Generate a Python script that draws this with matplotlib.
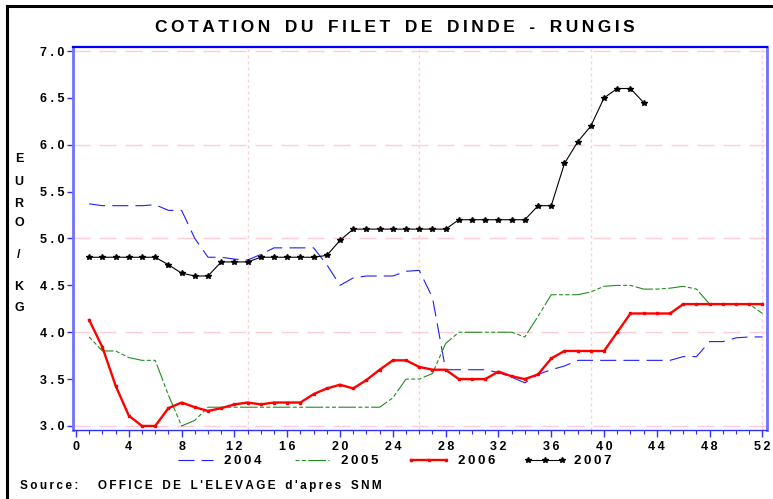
import numpy as np
import matplotlib.pyplot as plt
from matplotlib.lines import Line2D

plt.rcParams['font.family'] = ['Liberation Sans', 'DejaVu Sans']
plt.rcParams['font.weight'] = 'bold'

# weekly quotations, euro / kg
weeks_2004 = list(range(1, 53))
val_2004 = [5.37, 5.35, 5.35, 5.35, 5.35, 5.36, 5.3, 5.3, 5.0, 4.8,
            4.8, 4.78, 4.77, 4.83, 4.9, 4.9, 4.9, 4.9, 4.72, 4.5,
            4.58, 4.6, 4.6, 4.6, 4.65, 4.66, 4.37, 3.6, 3.6, 3.6,
            3.6, 3.57, 3.52, 3.46, 3.55, 3.6, 3.64, 3.7, 3.7, 3.7,
            3.7, 3.7, 3.7, 3.7, 3.7, 3.74, 3.74, 3.9, 3.9, 3.94,
            3.95, 3.95]

weeks_2005 = list(range(1, 53))
val_2005 = [3.95, 3.8, 3.8, 3.73, 3.7, 3.7, 3.33, 3.0, 3.06, 3.2,
            3.2, 3.2, 3.2, 3.2, 3.2, 3.2, 3.2, 3.2, 3.2, 3.2,
            3.2, 3.2, 3.2, 3.3, 3.5, 3.5, 3.56, 3.88, 4.0, 4.0,
            4.0, 4.0, 4.0, 3.95, 4.17, 4.4, 4.4, 4.4, 4.43, 4.49,
            4.5, 4.5, 4.46, 4.46, 4.47, 4.49, 4.46, 4.3, 4.3, 4.3,
            4.3, 4.2]

weeks_2006 = list(range(1, 53))
val_2006 = [4.13, 3.84, 3.43, 3.11, 3.0, 3.0, 3.19, 3.25, 3.2, 3.16,
            3.19, 3.23, 3.25, 3.23, 3.25, 3.25, 3.25, 3.34, 3.4, 3.44,
            3.4, 3.49, 3.6, 3.7, 3.7, 3.63, 3.6, 3.6, 3.5, 3.5,
            3.5, 3.58, 3.53, 3.5, 3.55, 3.72, 3.8, 3.8, 3.8, 3.8,
            4.0, 4.2, 4.2, 4.2, 4.2, 4.3, 4.3, 4.3, 4.3, 4.3,
            4.3, 4.3]

weeks_2007 = list(range(1, 44))
val_2007 = [4.8, 4.8, 4.8, 4.8, 4.8, 4.8, 4.72, 4.63, 4.6, 4.6,
            4.75, 4.75, 4.75, 4.8, 4.8, 4.8, 4.8, 4.8, 4.82, 4.98,
            5.1, 5.1, 5.1, 5.1, 5.1, 5.1, 5.1, 5.1, 5.2, 5.2,
            5.2, 5.2, 5.2, 5.2, 5.35, 5.35, 5.8, 6.03, 6.2, 6.5,
            6.6, 6.6, 6.45]

xticks = list(range(0, 53, 4))
yticks = [3.0, 3.5, 4.0, 4.5, 5.0, 5.5, 6.0, 6.5, 7.0]
week_grid = [13, 26, 39, 52]
price_grid = [3.0, 4.0, 5.0, 6.0, 7.0]


def px(n):
    return n * 0.72


def spaced(s):
    # letter spacing like the original output
    return '\u2009'.join(s)


fig = plt.figure(figsize=(7.73, 4.99), dpi=100)
ax = fig.add_axes([72.7 / 773, 1 - 430 / 499, (766.7 - 72.7) / 773, (430 - 46.7) / 499])

# outer frame: only left and top edges are inside the image
x0, y0 = 7.5 / 773, 1 - 6 / 499
fig.add_artist(Line2D([x0, x0], [0, y0], transform=fig.transFigure, color='black', lw=2.2))
fig.add_artist(Line2D([x0, 1], [y0, y0], transform=fig.transFigure, color='black', lw=2.2))

for g in price_grid:
    ax.axhline(g, color='#ffccd6', lw=1, dashes=(px(17), px(9)), zorder=0)
for g in week_grid:
    ax.axvline(g, color='#ffccd6', lw=1, dashes=(px(3), px(3)), zorder=0)

ax.plot(weeks_2004, val_2004, color='#1f1fff', lw=0.8,
        dashes=(px(20), px(9)), label=spaced('2004'))
ax.plot(weeks_2005, val_2005, color='#1f8f1f', lw=0.8,
        dashes=(px(5), px(3), px(5), px(3), px(22), px(3)), label=spaced('2005'))
ax.plot(weeks_2006, val_2006, color='#ff0000', lw=1.7, marker='s',
        markersize=2.0, label=spaced('2006'))
ax.plot(weeks_2007, val_2007, color='black', lw=0.8, marker='*',
        markersize=4.2, label=spaced('2007'))

ax.set_xlim(-0.25, 52.32)
ax.set_ylim(2.957, 7.046)
ax.set_xticks(xticks)
ax.set_xticks(range(0, 53), minor=True)
ax.set_xticklabels([spaced(str(t)) for t in xticks], fontsize=9, fontweight='bold')
ax.set_yticks(yticks)
ax.set_yticklabels([' . '.join(f'{t:.1f}'.split('.')) for t in yticks],
                   fontsize=9, fontweight='bold')
ax.tick_params(axis='x', which='major', length=5, width=1, color='#3030ff', pad=3)
ax.tick_params(axis='x', which='minor', length=3, width=0.8, color='#3030ff')
ax.tick_params(axis='y', length=4, width=1, color='#3030ff', pad=2)

ax.spines['top'].set_color('#0000ff')
ax.spines['top'].set_linewidth(1.6)
ax.spines['left'].set_color('#7070ff')
ax.spines['left'].set_linewidth(2)
ax.spines['right'].set_color('#7070ff')
ax.spines['right'].set_linewidth(2)
ax.spines['bottom'].set_color('#3030ff')
ax.spines['bottom'].set_linewidth(1)

title_words = ['COTATION', 'DU', 'FILET', 'DE', 'DINDE', '-', 'RUNGIS']
fig.text(395 / 773, 1 - 28 / 499, '   '.join(spaced(w) for w in title_words),
         ha='center', va='center', fontsize=12.5, fontweight='bold')

ylabel_chars = ['E', 'U', 'R', 'O', '/', 'K', 'G']
ylabel_pos = [159, 182, 204, 223, 255, 287, 308]
for c, yp in zip(ylabel_chars, ylabel_pos):
    fig.text(19 / 773, 1 - yp / 499, c, ha='center', va='center',
             fontsize=9, fontweight='bold')

fig.legend(loc='center', bbox_to_anchor=(393 / 773, 1 - 461 / 499), ncol=4,
           frameon=False, fontsize=9.5, handlelength=3.2, handletextpad=0.6,
           columnspacing=2.2, numpoints=3)

source_words = ['Source:', '', 'OFFICE', 'DE', "L'ELEVAGE", "d'apres", 'SNM']
fig.text(20 / 773, 1 - 486 / 499, '   '.join(spaced(w) for w in source_words),
         ha='left', va='center', fontsize=8.5, fontweight='bold')

fig.savefig('out.png', dpi=100)
